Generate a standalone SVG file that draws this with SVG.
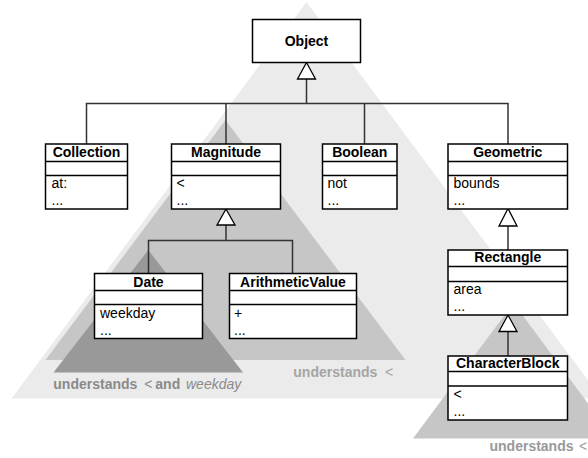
<svg xmlns="http://www.w3.org/2000/svg" width="588" height="458" viewBox="0 0 588 458">
<style>
.box{fill:#fff;stroke:#000;stroke-width:1.5}
.sep{stroke:#000;stroke-width:1.3}
.t{font-family:"Liberation Sans",Arial,sans-serif;font-size:14px;font-weight:bold;text-anchor:middle;fill:#000}
.a{font-family:"Liberation Sans",Arial,sans-serif;font-size:14px;fill:#000}
.con{fill:none;stroke:#333;stroke-width:1.5}
.head{fill:#fff;stroke:#000;stroke-width:1.3}
.lbl{font-family:"Liberation Sans",Arial,sans-serif;font-size:14px;font-weight:bold}
.lt{fill:#ebebeb}.md{fill:#c6c6c6}.dk{fill:#999}
</style>
<g id="regions">
<polygon class="lt" points="306.5,2 601.5,398.5 11.5,398.5"/>
<polygon class="md" points="225.5,120 405.5,360 45.5,360"/>
<polygon class="dk" points="148.3,250 243,372.5 53.5,372.5"/>
<polygon class="md" points="513.5,303 614,438.5 413,438.5"/>
</g>
<g id="connectors">
<path class="con" d="M306.5,79 V103.5 M86.5,144 V103.5 H508 V144 M226,103.5 V144 M364.5,103.5 V144"/>
<polygon class="head" points="306.5,62.5 297.5,79 315.5,79"/>
<path class="con" d="M226,225 V240.5 M148.5,273.5 V240.5 H292.5 V273.5"/>
<polygon class="head" points="226,209 217,225 235,225"/>
<path class="con" d="M508,226 V250"/>
<polygon class="head" points="508,208.5 499,226 517,226"/>
<path class="con" d="M508,331.5 V356"/>
<polygon class="head" points="508,315 499,331.5 517,331.5"/>
</g>
<g id="Object">
<rect class="box" x="252.5" y="19.5" width="108" height="43"/>
<text class="t" x="306.5" y="45.5">Object</text>
</g>
<g id="Collection">
<rect class="box" x="45.5" y="144" width="82" height="65"/>
<path class="sep" d="M45.5,161.5 H127.5 M45.5,175.5 H127.5"/>
<text class="t" x="86.5" y="157">Collection</text>
<text class="a" x="51.5" y="187.5">at:</text>
<text class="a" x="51.5" y="205">...</text>
</g>
<g id="Magnitude">
<rect class="box" x="171.5" y="144" width="109" height="65"/>
<path class="sep" d="M171.5,161.5 H280.5 M171.5,175.5 H280.5"/>
<text class="t" x="226" y="157">Magnitude</text>
<text class="a" x="176.5" y="188">&lt;</text>
<text class="a" x="176.5" y="205">...</text>
</g>
<g id="Boolean">
<rect class="box" x="322.5" y="144" width="74.5" height="65"/>
<path class="sep" d="M322.5,161.5 H397 M322.5,175.5 H397"/>
<text class="t" x="359.75" y="157">Boolean</text>
<text class="a" x="327.5" y="188">not</text>
<text class="a" x="327.5" y="205">...</text>
</g>
<g id="Geometric">
<rect class="box" x="448" y="144" width="119.5" height="65"/>
<path class="sep" d="M448,161.5 H567.5 M448,175.5 H567.5"/>
<text class="t" x="507.75" y="157">Geometric</text>
<text class="a" x="453.5" y="188">bounds</text>
<text class="a" x="453.5" y="205">...</text>
</g>
<g id="Date">
<rect class="box" x="94.5" y="273.5" width="108" height="65"/>
<path class="sep" d="M94.5,290.5 H202.5 M94.5,304.5 H202.5"/>
<text class="t" x="148.5" y="286.5">Date</text>
<text class="a" x="100" y="318">weekday</text>
<text class="a" x="100" y="335">...</text>
</g>
<g id="ArithmeticValue">
<rect class="box" x="229.5" y="273.5" width="127" height="65"/>
<path class="sep" d="M229.5,290.5 H356.5 M229.5,304.5 H356.5"/>
<text class="t" x="293" y="286.5">ArithmeticValue</text>
<text class="a" x="234" y="318">+</text>
<text class="a" x="234" y="335">...</text>
</g>
<g id="Rectangle">
<rect class="box" x="448" y="250" width="119.5" height="65"/>
<path class="sep" d="M448,266.5 H567.5 M448,281.5 H567.5"/>
<text class="t" x="507.75" y="262">Rectangle</text>
<text class="a" x="453.5" y="293.5">area</text>
<text class="a" x="453.5" y="311">...</text>
</g>
<g id="CharacterBlock">
<rect class="box" x="448" y="356" width="119.5" height="64"/>
<path class="sep" d="M448,371.5 H567.5 M448,386 H567.5"/>
<text class="t" x="507.75" y="367.5">CharacterBlock</text>
<text class="a" x="453.5" y="398.5">&lt;</text>
<text class="a" x="453.5" y="416">...</text>
</g>
<g id="labels">
<text class="lbl" y="388.5" fill="#8a8a8a"><tspan x="53.3">understands</tspan><tspan x="144.3" font-weight="normal">&lt;</tspan><tspan x="155.3">and</tspan><tspan x="186" font-weight="normal" font-style="italic">weekday</tspan></text>
<text class="lbl" y="376.5" fill="#a5a5a5"><tspan x="293.3">understands</tspan><tspan x="385" font-weight="normal">&lt;</tspan></text>
<text class="lbl" y="450.5" fill="#999"><tspan x="489.5">understands</tspan><tspan x="579" font-weight="normal">&lt;</tspan></text>
</g>
</svg>
